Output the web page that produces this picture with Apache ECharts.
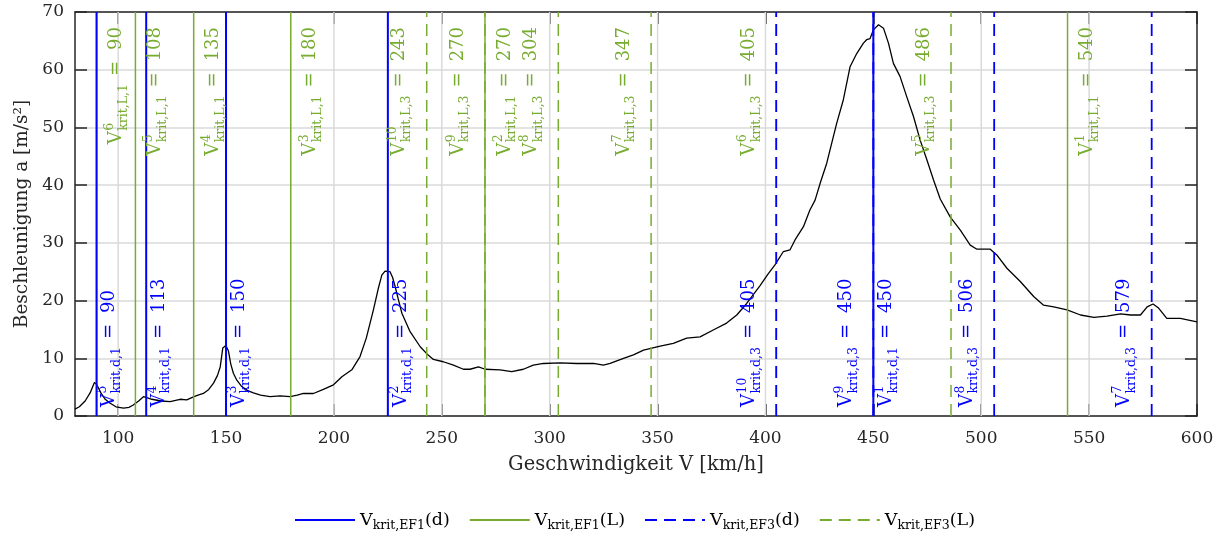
<!DOCTYPE html>
<html><head><meta charset="utf-8">
<script src="https://cdn.jsdelivr.net/npm/echarts@6/dist/echarts.min.js"></script>
<style>html,body{margin:0;padding:0;background:#fff}#c{width:1222px;height:538px}</style>
</head><body><div id="c"></div>
<script>
// ---- data ----
const speed = [80,82,84.7,87,89,90,92,94,96.3,99,102.5,105,107,109.5,111.7,112.5,114,115.6,120,124.1,128.7,131.8,134.9,137,139.5,142,144.2,146,147.3,148.5,149.9,151.1,152.2,153.4,155,157.3,160,162.7,166,170.4,175.1,179.7,183,185.9,190.5,195.1,199.8,203.7,208.3,212.1,215,218.3,220.5,222.2,223.7,226,227.2,228.4,230,231.5,235.3,240,243,246.1,250.7,255.4,260,263.1,267,270.1,277,282.4,287.8,292.4,297.1,304.8,312.5,320.3,324.9,328,334.2,338.8,343.5,351.2,357.3,363.5,369.7,375.8,382,386.7,391.3,397.5,401,404.4,408.3,411.4,413.7,417.6,420.6,423,425.5,428.4,433,436.1,439.2,442.3,445.4,446.9,448.5,450,452.4,454.7,457,459.3,462.4,465.5,468.6,471.7,474.8,477.9,481,485.6,490.3,494.9,498,504.2,507.2,511.9,518.1,524.3,528.9,533.6,539.8,546,552.2,558.3,564.6,569.2,573.8,576.9,579.6,582.2,586,592.3,600];
const accel = [1.2,1.6,2.6,4.0,5.8,5.5,4.0,2.9,2.2,1.6,1.35,1.5,1.9,2.6,3.35,3.5,3.1,2.9,2.6,2.5,2.9,2.8,3.3,3.6,3.9,4.6,5.7,7.0,8.5,11.8,12.2,11.3,9.0,7.4,6.2,5.1,4.4,4.0,3.6,3.35,3.5,3.35,3.6,3.9,3.9,4.6,5.4,6.8,8.0,10.3,13.5,18.4,22.0,24.4,25.1,25.0,24.0,22.4,20.0,17.8,14.6,12.0,10.8,9.8,9.4,8.8,8.1,8.1,8.5,8.1,8.0,7.7,8.1,8.8,9.1,9.2,9.1,9.1,8.8,9.1,10.0,10.6,11.4,12.1,12.6,13.5,13.7,14.9,16.1,17.5,19.5,22.6,24.5,26.2,28.5,28.8,30.5,32.8,35.7,37.4,40.5,43.8,50.7,54.8,60.5,62.8,64.6,65.2,65.4,66.9,67.8,67.2,64.6,61.1,58.8,55.3,51.9,47.8,44.4,40.9,37.6,34.5,32.2,29.6,28.9,28.9,27.9,25.6,23.3,20.7,19.2,18.9,18.4,17.5,17.1,17.3,17.7,17.5,17.5,18.9,19.4,18.7,16.9,16.9,16.3];

const xTicks = [100,150,200,250,300,350,400,450,500,550,600];
const xGrid  = [100,150,200,250,300,350,400,450,500,550];

// critical speeds and their order numbers
const dEF1 = [90,113,150,225,450];       const dEF1Order = [5,4,3,2,1];
const lEF1 = [90,108,135,180,270,540];   const lEF1Order = [6,5,4,3,2,1];
const dEF3 = [405,450,506,579];          const dEF3Order = [10,9,8,7];
const lEF3 = [243,270,304,347,405,486];  const lEF3Order = [10,9,8,7,6,5];

const seriesNames = ['EF1d','EF1L','EF3d','EF3L'];

// ---- styling ----
const FONT = 'DejaVu Serif';
const BLUE = '#0000FF', GREEN = '#77AC30', AX = '#262626';
const BIG = 17, LBIG = 18, LSMALL = 12.5;

const cvs = document.createElement('canvas').getContext('2d');
function measure(t, size){ cvs.font = size + 'px "' + FONT + '"'; return cvs.measureText(t).width; }

function vLines(xs){
  const d = [];
  xs.forEach(x => { d.push([x,0]); d.push([x,70]); d.push([x,'-']); });
  return d;
}

function labelRenderer(cfg){
  return function(params, api){
    const v = api.value(0), k = api.value(1);
    const p = api.coord([v, cfg.a]);
    const sup = String(k), sub = cfg.sub, num = String(v);
    const wV = measure('V', LBIG);
    const x1 = wV + 0.5;
    const eqX = x1 + Math.max(measure(sup, LSMALL), measure(sub, LSMALL)) + 8;
    const numX = eqX + measure('=', LBIG) + 11;
    const total = numX + measure(num, LBIG);
    const o = cfg.endAnchored ? -total : 0;
    const mk = (t, x, y, s) => ({type:'text', x:x + o, y:y, style:{text:t, fontSize:s, fontFamily:FONT, fill:cfg.color, align:'left', verticalAlign:'middle', textAlign:'left', textVerticalAlign:'middle'}});
    return {type:'group', x: p[0] + cfg.dx, y: p[1], rotation: Math.PI/2, children:[
      mk('V', 0, 0, LBIG),
      mk(sup, x1, -6.5, LSMALL),
      mk(sub, x1, 7, LSMALL),
      mk('=', eqX, 0, LBIG),
      mk(num, numX, 0, LBIG)
    ]};
  };
}

function labelSeries(xs, order, cfg){
  return {type:'custom', silent:true, clip:false, z:10, renderItem: labelRenderer(cfg),
    data: xs.map((v,i)=>[v, order[i]]), encode:{x:0}};
}

const chart = echarts.init(document.getElementById('c'), null, {renderer:'canvas'});
const axisLineStyle = {color:AX, width:1.5};
chart.setOption({
  animation:false,
  textStyle:{fontFamily:FONT},
  grid:{left:75, right:25, top:12, bottom:122, containLabel:false},
  legend:{
    data: seriesNames, left:289, top:506, itemWidth:60, itemHeight:14, itemGap:19,
    itemStyle:{opacity:0, borderWidth:0},
    textStyle:{fontFamily:FONT, fontSize:BIG, color:'#000',
      rich:{v:{fontSize:17.5, fontFamily:FONT, color:'#000'}, s:{fontSize:12.5, fontFamily:FONT, color:'#000', padding:[12,0,0,0]}}},
    formatter: function(name){
      const m = {EF1d:['EF1','d'], EF1L:['EF1','L'], EF3d:['EF3','d'], EF3L:['EF3','L']}[name];
      return '{v|V}{s|krit,' + m[0] + '}{v|(' + m[1] + ')}';
    }
  },
  xAxis:[{
    type:'value', min:80, max:600, position:'bottom',
    name:'Geschwindigkeit V [km/h]', nameLocation:'middle', nameGap:39,
    nameTextStyle:{fontFamily:FONT, fontSize:19.5, color:AX},
    axisLine:{show:true, onZero:false, lineStyle:axisLineStyle},
    axisTick:{show:true, inside:true, length:12, customValues:xTicks, lineStyle:{color:AX, width:1.5}},
    axisLabel:{customValues:xTicks, fontFamily:FONT, fontSize:BIG, color:AX, margin:14},
    splitLine:{show:false}
  },{
    type:'value', min:80, max:600, position:'top',
    axisLine:{show:true, onZero:false, lineStyle:axisLineStyle},
    axisTick:{show:true, inside:true, length:12, customValues:xTicks, lineStyle:{color:AX, width:1.5}},
    axisLabel:{show:false}, splitLine:{show:false}
  }],
  yAxis:[{
    type:'value', min:0, max:70, interval:10, position:'left',
    name:'Beschleunigung a [m/s²]', nameLocation:'middle', nameGap:40,
    nameTextStyle:{fontFamily:FONT, fontSize:18.5, color:AX},
    axisLine:{show:true, onZero:false, lineStyle:axisLineStyle},
    axisTick:{show:true, inside:true, length:12, lineStyle:{color:AX, width:1.5}},
    axisLabel:{fontFamily:FONT, fontSize:BIG, color:AX, margin:11},
    splitLine:{show:true, lineStyle:{color:'#dadada', width:1.5}}
  },{
    type:'value', min:0, max:70, interval:10, position:'right',
    axisLine:{show:true, onZero:false, lineStyle:axisLineStyle},
    axisTick:{show:true, inside:true, length:12, lineStyle:{color:AX, width:1.5}},
    axisLabel:{show:false}, splitLine:{show:false}
  }],
  series:[
    {name:'grid', type:'line', silent:true, z:1, symbol:'none', showSymbol:false,
      data: vLines(xGrid), lineStyle:{color:'#dadada', width:1.5}},
    {name:'curve', type:'line', z:2, symbol:'none', showSymbol:false,
      data: speed.map((v,i)=>[v, accel[i]]), lineStyle:{color:'#000', width:1.3}},
    {name:'EF3L', type:'line', z:3, symbol:'none', showSymbol:false, data: vLines(lEF3),
      lineStyle:{color:GREEN, width:1.5, type:[12,7]}, itemStyle:{color:GREEN}},
    {name:'EF1L', type:'line', z:4, symbol:'none', showSymbol:false, data: vLines(lEF1),
      lineStyle:{color:GREEN, width:1.5}, itemStyle:{color:GREEN}},
    {name:'EF3d', type:'line', z:5, symbol:'none', showSymbol:false, data: vLines(dEF3),
      lineStyle:{color:BLUE, width:1.8, type:[12,7]}, itemStyle:{color:BLUE}},
    {name:'EF1d', type:'line', z:6, symbol:'none', showSymbol:false, data: vLines(dEF1),
      lineStyle:{color:BLUE, width:2}, itemStyle:{color:BLUE}},
    labelSeries(dEF1, dEF1Order, {a:1.56, dx:13, color:BLUE, sub:'krit,d,1'}),
    labelSeries(lEF1, lEF1Order, {a:67.4, dx:20, color:GREEN, sub:'krit,L,1', endAnchored:true}),
    labelSeries(dEF3, dEF3Order, {a:1.56, dx:-27, color:BLUE, sub:'krit,d,3'}),
    labelSeries(lEF3, lEF3Order, {a:67.4, dx:-27, color:GREEN, sub:'krit,L,3', endAnchored:true})
  ]
});
</script></body></html>
